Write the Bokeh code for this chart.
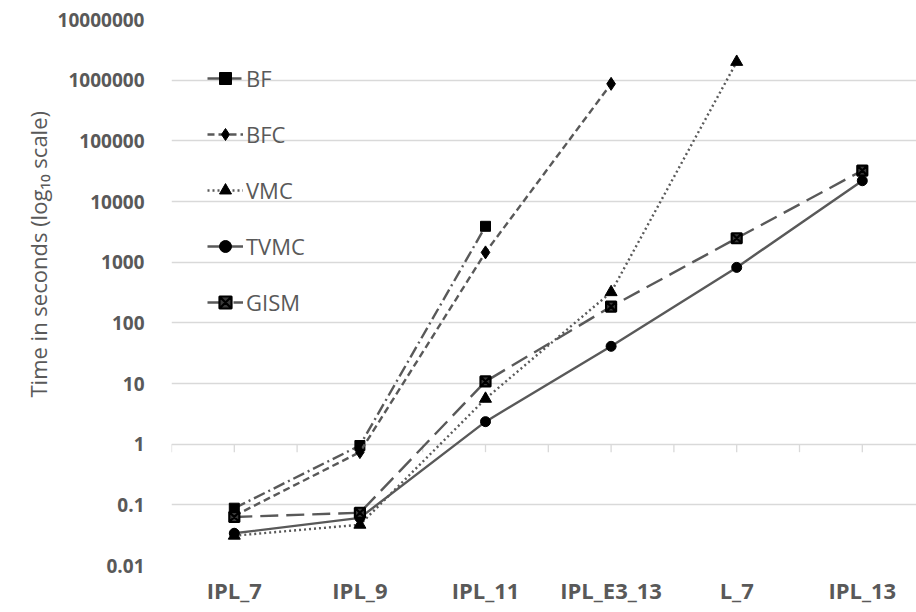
import numpy as np
from bokeh.plotting import figure
from bokeh.models import (Range1d, FixedTicker, Legend, LegendItem, Title,
                          ColumnDataSource)
from bokeh.embed import file_html
from bokeh.resources import INLINE

# ---------------- data ----------------
categories = ["IPL_7", "IPL_9", "IPL_11", "IPL_E3_13", "L_7", "IPL_13"]

bf_vals   = [0.088, 0.95, 3900]
bfc_vals  = [0.066, 0.74, 1450, 870000]
vmc_vals  = [0.031, 0.047, 5.6, 320, 2000000]
tvmc_vals = [0.034, 0.061, 2.35, 41, 820, 22000]
gism_vals = [0.063, 0.074, 10.8, 185, 2480, 32400]

y_ticks = [0.01, 0.1, 1, 10, 100, 1000, 10000, 100000, 1000000, 10000000]
y_tick_labels = ["0.01", "0.1", "1", "10", "100", "1000", "10000",
                 "100000", "1000000", "10000000"]

y_title = "Time in seconds (log\u2081\u2080 scale)"

# ---------------- figure ----------------
FONT = "Open Sans"
TXT = "#595959"
LINE = "#595959"

W, H = 916, 612
frame_left, frame_top, frame_bottom = 171, 19, 565
step_px = 125.6
x_end = (W - frame_left) / step_px - 0.5
decade_px = (frame_bottom - frame_top) / (np.log10(y_ticks[-1]) - np.log10(y_ticks[0]))

p = figure(width=W, height=H, output_backend="svg", toolbar_location=None,
           y_axis_type="log", x_range=Range1d(-0.5, x_end),
           y_range=Range1d(y_ticks[0], y_ticks[-1]))
p.min_border_left = frame_left
p.min_border_right = 0
p.min_border_top = frame_top
p.min_border_bottom = H - frame_bottom
p.outline_line_color = None
p.background_fill_color = "white"
p.border_fill_color = "white"

# x axis
p.xaxis.ticker = FixedTicker(ticks=list(range(len(categories))))
p.xaxis.major_label_overrides = {i: c for i, c in enumerate(categories)}
p.xaxis.axis_line_color = None
p.xaxis.major_tick_line_color = None
p.xaxis.minor_tick_line_color = None
p.xaxis.major_tick_out = 0
p.xaxis.major_label_text_font = FONT
p.xaxis.major_label_text_font_style = "bold"
p.xaxis.major_label_text_font_size = "22px"
p.xaxis.major_label_text_color = TXT
p.xaxis.major_label_standoff = 9

# y axis
p.yaxis.ticker = FixedTicker(ticks=y_ticks)
p.yaxis.major_label_overrides = {t: l for t, l in zip(y_ticks, y_tick_labels)}
p.yaxis.axis_line_color = None
p.yaxis.major_tick_line_color = None
p.yaxis.minor_tick_line_color = None
p.yaxis.major_tick_out = 0
p.yaxis.major_label_text_font = FONT
p.yaxis.major_label_text_font_style = "bold"
p.yaxis.major_label_text_font_size = "19px"
p.yaxis.major_label_text_color = TXT
p.yaxis.major_label_standoff = 27

p.xgrid.grid_line_color = None
p.ygrid.grid_line_color = "#D9D9D9"
p.ygrid.grid_line_width = 1.3

# category axis crossing at y = 1, with its small tick marks
tick_x = np.arange(-0.5, len(categories), 0.5)
tick_x = tick_x[tick_x <= x_end]
p.segment(x0=tick_x, y0=np.ones_like(tick_x), x1=tick_x,
          y1=np.full_like(tick_x, 10 ** (-8 / decade_px)),
          line_color="#D9D9D9", line_width=1.3)

# ---------------- series ----------------
series = [
    ("BF", bf_vals, "12 4 2 4", "square", 10),
    ("BFC", bfc_vals, "7 4", "diamond", 13),
    ("VMC", vmc_vals, "2 3", "triangle", 12),
    ("TVMC", tvmc_vals, "solid", "circle", 10),
    ("GISM", gism_vals, "18 8", "square_x", 10),
]

items = []
for name, vals, dash, marker, size in series:
    xs = list(range(len(vals)))
    src = ColumnDataSource(dict(x=xs, y=vals))
    r1 = p.line("x", "y", source=src, line_color=LINE, line_width=2.4,
                line_dash=dash)
    if marker == "square_x":
        r2 = p.scatter("x", "y", source=src, marker=marker, size=size,
                       fill_color="#3a3a3a", line_color="black", line_width=2.2)
    else:
        r2 = p.scatter("x", "y", source=src, marker=marker, size=size,
                       fill_color="black", line_color="black")
    items.append(LegendItem(label=name, renderers=[r1, r2]))

legend = Legend(items=items, location=(36, 248))
legend.label_text_font = FONT
legend.label_text_font_size = "22px"
legend.label_text_color = TXT
legend.glyph_width = 36
legend.glyph_height = 30
legend.label_height = 30
legend.label_standoff = 3
legend.spacing = 26
legend.padding = 0
legend.margin = 0
legend.border_line_color = None
legend.background_fill_alpha = 0
p.add_layout(legend, "center")

# y-axis title: a side-panel title, starting 168 px above the frame bottom,
# pushed to the outer (left) edge of its panel
title = Title(text=y_title, align="left", offset=168, vertical_align="top",
              text_font=FONT, text_font_size="22px",
              text_font_style="normal", text_color=TXT, standoff=0)
p.add_layout(title, "left")

open("out.html", "w").write(file_html(p, INLINE))
